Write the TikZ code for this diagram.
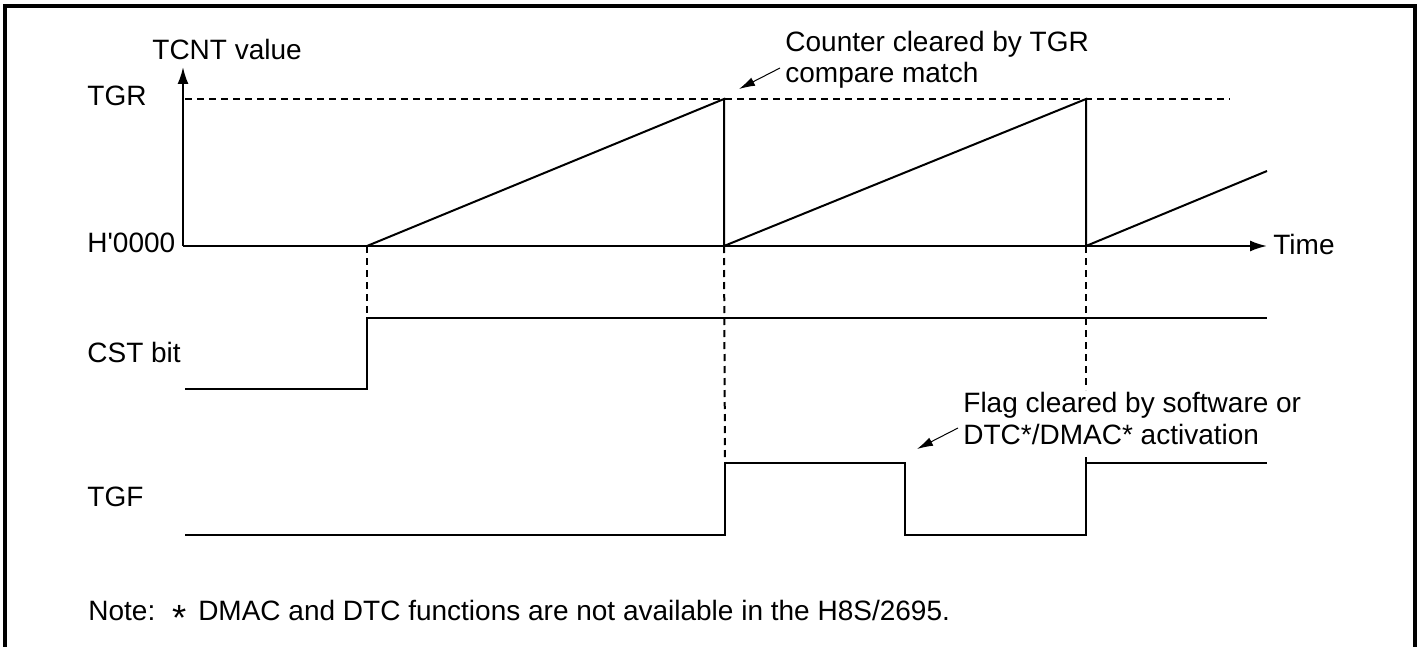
\documentclass[tikz,border=0pt]{standalone}
\usepackage{fontspec}
\setmainfont{Liberation Sans}
\usetikzlibrary{arrows.meta}
\begin{document}
\begin{tikzpicture}[x=0.5pt,y=-0.5pt,
  lbl/.style={anchor=base west,inner sep=0pt,font=\fontsize{14pt}{16pt}\selectfont},
  wave/.style={line width=1pt,line join=miter},
  guide/.style={line width=1pt,dash pattern=on 3.5pt off 2.5pt},
  pointer/.style={line width=0.5pt,-{Latex[length=8pt,width=4.5pt]}},
  axisarrow/.style={line width=1pt,-{Latex[length=8.5pt,width=5.5pt]}},
  frame/.style={line width=2pt}]
\useasboundingbox (0,0) rectangle (1417,647);
\draw[frame] (4.5,647) -- (4.5,6) -- (1415,6) -- (1415,647);

% axes
\coordinate (O) at (183,246);
\coordinate (Ytop) at (183,67);
\coordinate (Xend) at (1267,246);
\draw[axisarrow] (O) -- (Ytop);
\draw[axisarrow] (O) -- (Xend);
\draw[guide] (185,99) -- (1230,99);

% counter ramps
\coordinate (s1) at (367,246);
\coordinate (m1) at (724,99);
\coordinate (c1) at (724,246);
\coordinate (m2) at (1086,99);
\coordinate (c2) at (1086,246);
\coordinate (r3) at (1267,171);
\draw[wave] (s1) -- (m1) -- (c1) -- (m2) -- (c2) -- (r3);

% CST bit
\coordinate (cst0) at (185,389);
\coordinate (cstL) at (367,389);
\coordinate (cstH) at (367,318);
\coordinate (cst1) at (1267,318);
\draw[wave] (cst0) -- (cstL) -- (cstH) -- (cst1);

% TGF
\coordinate (t0) at (185,535);
\coordinate (t1) at (725,535);
\coordinate (t2) at (725,463);
\coordinate (t3) at (905,463);
\coordinate (t4) at (905,535);
\coordinate (t5) at (1086,535);
\coordinate (t6) at (1086,463);
\coordinate (t7) at (1267,463);
\draw[wave] (t0) -- (t1) -- (t2) -- (t3) -- (t4) -- (t5) -- (t6) -- (t7);

% dashed guides
\draw[guide] (s1) -- (cstH);
\draw[guide] (c1) -- (t2);
\draw[guide] (c2) -- (1086,390);
\draw[guide] (1086,457) -- (t6);

% labels
\node[lbl] (tcnt) at (152,60) {TCNT value};
\node[lbl] (tgr) at (87,105) {TGR};
\node[lbl] (h0) at (87,252) {H\textquotesingle 0000};
\node[lbl] (cst) at (87,362) {CST bit};
\node[lbl] (tgf) at (87,506) {TGF};
\node[lbl] (time) at (1273,254) {Time};
\node[lbl] (cnt1) at (785,52) {Counter cleared by TGR};
\node[lbl] (cnt2) at (785,83) {compare match};
\node[lbl] (flg1) at (963,412) {Flag cleared by software or};
\node[lbl] (flg2) at (963,444) {DTC*/DMAC* activation};
\node[lbl] (note) at (88,620) {Note:\hspace{0.6em}\raisebox{-5pt}{\scalebox{1.3}{*}}\hspace{0.15em} DMAC and DTC functions are not available in the H8S/2695.};

% pointers
\coordinate (pa) at (780,68);
\coordinate (pb) at (739,89);
\draw[pointer] (pa) -- (pb);
\coordinate (qa) at (958,428);
\coordinate (qb) at (917,449);
\draw[pointer] (qa) -- (qb);
\end{tikzpicture}
\end{document}
